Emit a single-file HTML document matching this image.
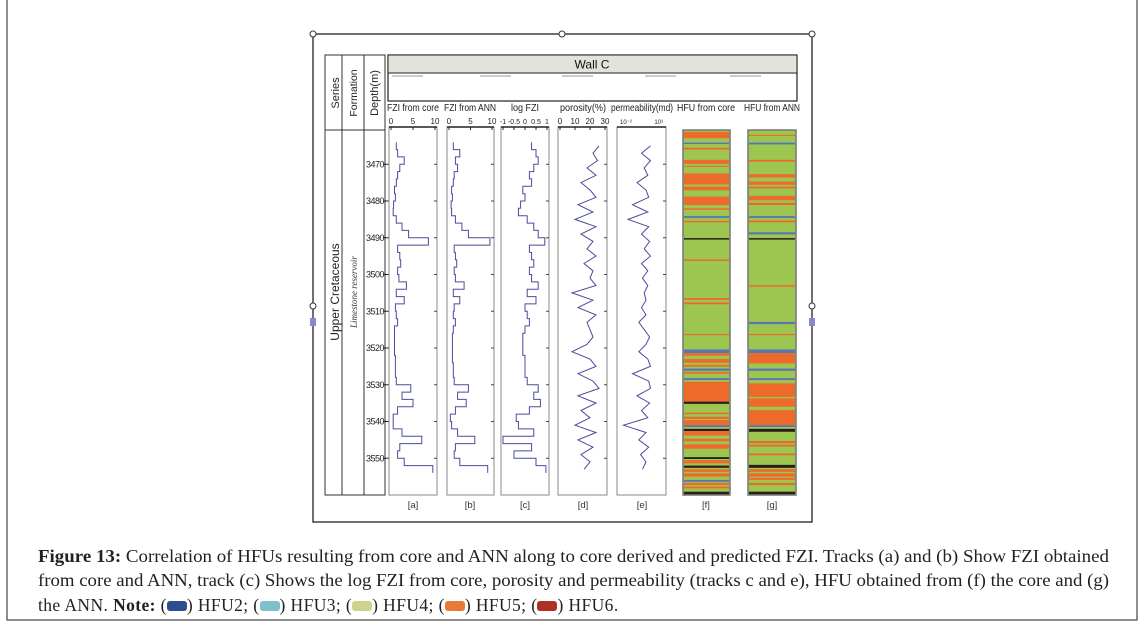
<!DOCTYPE html>
<html><head><meta charset="utf-8">
<style>
html,body{margin:0;padding:0;background:#fff;}
#wrap{position:relative;width:1144px;height:637px;overflow:hidden;}
svg{position:absolute;left:0;top:0;}
.cap{position:absolute;left:38px;font-family:"Liberation Serif",serif;font-size:17.5px;letter-spacing:0.4px;color:#222;white-space:nowrap;line-height:20px;}
.sw{display:inline-block;width:20px;height:10px;border-radius:3px;vertical-align:0px;}
</style></head>
<body>
<div id="wrap">
<svg id="fig" width="1144" height="637" viewBox="0 0 1144 637" font-family="Liberation Sans, sans-serif">
<text x="38" y="562" font-family="Liberation Serif, serif" font-size="17.5" fill="#222" textLength="1071" lengthAdjust="spacingAndGlyphs"><tspan font-weight="bold">Figure 13:</tspan> Correlation of HFUs resulting from core and ANN along to core derived and predicted FZI. Tracks (a) and (b) Show FZI obtained</text>
<text x="38" y="586" font-family="Liberation Serif, serif" font-size="17.5" fill="#222" textLength="1071" lengthAdjust="spacingAndGlyphs">from core and ANN, track (c) Shows the log FZI from core, porosity and permeability (tracks c and e), HFU obtained from (f) the core and (g)</text>
</svg>
<div class="cap" style="top:595px">the ANN. <b>Note:</b> (<span class="sw" style="background:#2e4d8f"></span>) HFU2; (<span class="sw" style="background:#7fbfc8"></span>) HFU3; (<span class="sw" style="background:#cdd38a"></span>) HFU4; (<span class="sw" style="background:#e87a35"></span>) HFU5; (<span class="sw" style="background:#b03028"></span>) HFU6.</div>
</div>
<script>
const depths=[3465,3467,3469,3471,3473,3475,3477,3479,3481,3483,3485,3487,3489,3491,3493,3495,3497,3499,3501,3503,3505,3507,3509,3511,3513,3515,3517,3519,3521,3523,3525,3527,3529,3531,3533,3535,3537,3539,3541,3543,3545,3547,3549,3551,3553];
const fziCore=[1.2,1.5,3.0,2.0,1.5,1.2,0.8,1.0,0.6,0.5,1.2,2.5,4.0,8.5,1.5,2.0,2.2,1.5,1.8,3.5,1.2,3.0,1.0,1.2,1.5,0.8,0.8,0.8,0.8,1.0,1.0,1.0,1.2,4.5,2.5,5.0,1.5,0.5,0.5,2.5,7.0,2.0,1.5,3.0,9.5];
const fziAnn=[1.0,2.5,1.5,2.0,1.2,1.0,0.6,0.8,0.5,0.6,1.5,3.0,4.5,9.5,1.2,1.5,1.8,1.2,1.5,3.5,1.0,2.5,1.2,1.0,1.5,1.0,0.8,0.8,0.8,0.8,1.0,1.0,1.2,4.5,2.0,4.0,1.5,0.3,0.6,2.0,6.0,1.5,1.2,2.5,9.0];
const logFzi=[0.3,0.5,0.6,0.4,0.2,0.3,-0.1,0.0,-0.2,-0.3,0.1,0.4,0.6,0.9,0.2,0.3,0.4,0.2,0.3,0.6,0.1,0.5,0.0,0.1,0.2,0.0,-0.1,-0.1,-0.1,0.0,0.0,0.0,0.1,0.6,0.4,0.7,0.2,-0.4,-0.3,0.4,-1.0,0.3,-0.5,0.5,0.95];
const porosity=[26,22,25,18,24,14,20,24,12,22,10,24,14,22,18,24,16,22,20,24,8,22,12,24,18,20,22,18,8,20,24,12,22,26,12,24,14,20,10,24,12,22,14,20,16];
const permLog=[1.5,0.5,1.5,0.8,1.2,0.0,1.0,1.3,-0.5,1.2,-1.0,1.3,0.5,1.4,0.8,1.5,0.5,1.2,0.6,1.2,0.8,1.0,0.5,1.0,0.2,0.8,1.4,1.0,0.2,1.2,1.5,-0.5,1.3,1.5,0.0,1.4,0.5,1.2,-1.5,1.0,0.2,1.3,0.4,1.0,0.6];
const depthTicks=[3470,3480,3490,3500,3510,3520,3530,3540,3550];
const hfuCoreTop=[3461.2,3464.1,3465.5,3468.8,3470.4,3472.5,3476.1,3478.8,3482.0,3484.1,3485.4,3490.1,3495.9,3506.4,3507.6,3516.2,3520.4,3521.4,3523.0,3524.6,3525.6,3526.5,3528.2,3529.2,3534.6,3537.6,3538.7,3539.6,3541.0,3542.0,3542.6,3544.7,3546.2,3549.7,3550.5,3552.0,3553.0,3554.1,3555.9,3556.7,3557.7,3559.1];
const hfuCoreBot=[3462.9,3464.5,3466.0,3469.9,3470.7,3475.5,3477.1,3481.1,3482.4,3484.6,3485.8,3490.5,3496.3,3506.9,3508.1,3516.5,3521.4,3522.1,3524.0,3525.1,3526.2,3527.0,3528.7,3534.6,3535.2,3538.0,3539.3,3541.0,3541.5,3542.6,3543.8,3545.4,3547.4,3550.2,3551.4,3552.6,3553.7,3555.0,3556.4,3557.3,3558.2,3559.8];
const hfuCoreCode=[5,2,5,5,5,5,5,5,5,2,5,6,5,5,5,5,2,5,5,5,2,5,2,5,6,5,5,5,2,6,5,5,5,6,5,6,5,5,2,5,5,6];
const hfuAnnTop=[3462.0,3464.1,3468.8,3472.7,3474.7,3476.1,3478.6,3480.5,3484.1,3485.3,3488.5,3490.1,3502.9,3512.9,3516.2,3520.4,3521.4,3525.6,3528.2,3529.6,3533.7,3536.9,3541.0,3542.0,3545.3,3546.3,3548.7,3551.8,3553.0,3554.1,3555.3,3556.7,3559.1];
const hfuAnnBot=[3462.3,3464.6,3469.3,3473.6,3475.6,3476.6,3479.8,3481.1,3484.6,3485.8,3489.1,3490.5,3503.3,3513.5,3516.5,3521.4,3524.2,3526.2,3528.7,3533.3,3536.0,3541.0,3541.5,3542.8,3545.9,3546.8,3549.2,3552.6,3553.7,3555.0,3555.9,3557.3,3559.8];
const hfuAnnCode=[5,2,5,5,5,5,5,5,2,5,2,6,5,2,5,2,5,2,2,5,5,5,2,6,5,5,5,6,5,5,5,5,6];

const svg=document.getElementById('fig');
const NS='http://www.w3.org/2000/svg';
function mk(tag,attrs,parent,name,inter){const e=document.createElementNS(NS,tag);for(const k in attrs)e.setAttribute(k,attrs[k]);(parent||svg).appendChild(e);if(name){}return e;}
function txt(x,y,s,attrs,name){const t=mk('text',Object.assign({x:x,y:y},attrs||{}),null,name);t.textContent=s;return t;}
const dTop=3460,dBot=3560,yTop=127.5,yBot=495;
function yOf(d){return yTop+(d-dTop)*(yBot-yTop)/(dBot-dTop);}

mk('rect',{x:7,y:-2,width:1130,height:622,fill:'none',stroke:'#444','stroke-width':1.2},null,'outer-border');
mk('rect',{x:313,y:34,width:499,height:488,fill:'none',stroke:'#222','stroke-width':1.3},null,'figure-frame');
[[313,34],[562,34],[812,34],[313,306],[812,306]].forEach(p=>{const c=mk('circle',{cx:p[0],cy:p[1],r:3,fill:'#fff',stroke:'#333','stroke-width':1},null,null);});
[[313,322],[812,322]].forEach(p=>{const r=mk('rect',{x:p[0]-3,y:p[1]-4,width:6,height:8,fill:'#8888cc'},null,null);});

mk('rect',{x:325,y:55,width:60,height:440,fill:'none',stroke:'#333','stroke-width':1},null,'strat-table');
[342,364].forEach(x=>{const l=mk('line',{x1:x,y1:55,x2:x,y2:495,stroke:'#333'},null,null);});
mk('line',{x1:325,y1:130,x2:385,y2:130,stroke:'#333'},null,'table-header-line');
txt(339,93,'Series',{transform:'rotate(-90 339 93)','text-anchor':'middle','font-size':11,fill:'#222'},'series-header');
txt(357,93,'Formation',{transform:'rotate(-90 357 93)','text-anchor':'middle','font-size':10.5,fill:'#222'},'formation-header');
txt(378,93,'Depth(m)',{transform:'rotate(-90 378 93)','text-anchor':'middle','font-size':11,fill:'#222'},'depth-header');
txt(339,292,'Upper Cretaceous',{transform:'rotate(-90 339 292)','text-anchor':'middle','font-size':12,fill:'#222'},'series-label');
txt(357,292,'Limestone reservoir',{transform:'rotate(-90 357 292)','text-anchor':'middle','font-size':9,'font-family':'Liberation Serif, serif','font-style':'italic',fill:'#333'},'formation-label');
depthTicks.forEach(d=>{const y=yOf(d);
 const t=txt(384,y+3,String(d),{'text-anchor':'end','font-size':9,fill:'#222','letter-spacing':'-0.5'},null);
 const l=mk('line',{x1:383,y1:y,x2:389,y2:y,stroke:'#222'},null,null);});

mk('rect',{x:388,y:55,width:409,height:46,fill:'#fff',stroke:'#222','stroke-width':1.2},null,'wall-header-box');
mk('rect',{x:388,y:55,width:409,height:18,fill:'#e3e3dd',stroke:'#222','stroke-width':1},null,'wall-title-bar');
txt(592,68.5,'Wall C',{'text-anchor':'middle','font-size':12,fill:'#111'},'wall-title');
[[392,423],[480,511],[562,593],[645,676],[730,761]].forEach(s=>{const l=mk('line',{x1:s[0],y1:76,x2:s[1],y2:76,stroke:'#777','stroke-width':0.8},null,null);});

const tracks=[
 {x0:389,x1:437,title:'FZI from core',lab:'[a]',tc:413},
 {x0:447,x1:494,title:'FZI from ANN',lab:'[b]',tc:470},
 {x0:501,x1:549,title:'log FZI',lab:'[c]',tc:525},
 {x0:558,x1:607,title:'porosity(%)',lab:'[d]',tc:583},
 {x0:617,x1:666,title:'permeability(md)',lab:'[e]',tc:642},
 {x0:683,x1:730,title:'HFU from core',lab:'[f]',tc:706},
 {x0:748,x1:796,title:'HFU from ANN',lab:'[g]',tc:772}];
const titleW=[52,52,28,46,62,58,56];
tracks.forEach((t,i)=>{
 const tt=txt(t.tc,111,t.title,{'text-anchor':'middle','font-size':10.5,fill:'#222',textLength:titleW[i],lengthAdjust:'spacingAndGlyphs'},null);
 const lb=txt(t.tc,508,t.lab,{'text-anchor':'middle','font-size':9.5,fill:'#333'},null);
 if(i<5){
  const r=mk('rect',{x:t.x0,y:127,width:t.x1-t.x0,height:368,fill:'#fff',stroke:'#888','stroke-width':1},null,null);
  const a=mk('line',{x1:t.x0,y1:127,x2:t.x1,y2:127,stroke:'#222','stroke-width':1.4},null,null);
  depthTicks.forEach(d=>{const l=mk('line',{x1:t.x1-3,y1:yOf(d),x2:t.x1,y2:yOf(d),stroke:'#444'},null,null);});
 }
});
function axisLabels(t,vals,lo,hi,fs,name){vals.forEach(v=>{const x=t.x0+2+(t.x1-t.x0-4)*(parseFloat(v)-lo)/(hi-lo);
 const e=txt(x,124,v,{'text-anchor':'middle','font-size':fs,fill:'#222'},null);
 const l=mk('line',{x1:x,y1:127,x2:x,y2:130,stroke:'#222'},null,null);});}
axisLabels(tracks[0],['0','5','10'],0,10,8,'fzi-core-tick');
axisLabels(tracks[1],['0','5','10'],0,10,8,'fzi-ann-tick');
axisLabels(tracks[2],['-1','-0.5','0','0.5','1'],-1,1,7,'logfzi-tick');
axisLabels(tracks[3],['0','10','20','30'],0,30,8,'porosity-tick');
txt(620,124,'10⁻²',{'font-size':6,fill:'#222'},'perm-min-label');
txt(663,124,'10³',{'font-size':6,fill:'#222','text-anchor':'end'},'perm-max-label');

function xScale(t,lo,hi){return v=>t.x0+2+(t.x1-t.x0-4)*(v-lo)/(hi-lo);}
function stepPath(vals,xs){let d='';vals.forEach((v,i)=>{const y0=yOf(depths[i]-1),y1=yOf(depths[i]+1),x=xs(v);d+=(i?'L':'M')+xs(i?vals[i-1]:v).toFixed(1)+' '+y0.toFixed(1)+'L'+x.toFixed(1)+' '+y0.toFixed(1)+'L'+x.toFixed(1)+' '+y1.toFixed(1);});return d;}
function linePath(vals,xs){return vals.map((v,i)=>(i?'L':'M')+xs(v).toFixed(1)+' '+yOf(depths[i]).toFixed(1)).join('');}
const sty={fill:'none',stroke:'#4b4b9c','stroke-width':1};
mk('path',Object.assign({d:stepPath(fziCore,xScale(tracks[0],0,10))},sty),null,'fzi-core-curve');
mk('path',Object.assign({d:stepPath(fziAnn,xScale(tracks[1],0,10))},sty),null,'fzi-ann-curve');
mk('path',Object.assign({d:stepPath(logFzi,xScale(tracks[2],-1,1))},sty),null,'log-fzi-curve');
mk('path',Object.assign({d:linePath(porosity,xScale(tracks[3],0,30))},sty),null,'porosity-curve');
mk('path',Object.assign({d:linePath(permLog,xScale(tracks[4],-2,3))},sty),null,'permeability-curve');

const hfuColor={2:'#5a74b8',3:'#7fbfc8',4:'#9cc64f',5:'#ee6a2a',6:'#2a1c1c'};
function hfuCol(t,tops,bots,codes,name){
 const g=mk('g',{},null,name);
 mk('rect',{x:t.x0,y:130,width:t.x1-t.x0,height:365,fill:hfuColor[4],stroke:'#777','stroke-width':1.5},g,null);
 tops.forEach((d,i)=>{const y0=yOf(d),y1=yOf(bots[i]);
  const r=mk('rect',{x:t.x0+1,y:y0,width:t.x1-t.x0-2,height:Math.max(1,y1-y0),fill:hfuColor[codes[i]]},g,null);
  });
}
hfuCol(tracks[5],hfuCoreTop,hfuCoreBot,hfuCoreCode,'hfu-core-column');
hfuCol(tracks[6],hfuAnnTop,hfuAnnBot,hfuAnnCode,'hfu-ann-column');
</script>
</body></html>
